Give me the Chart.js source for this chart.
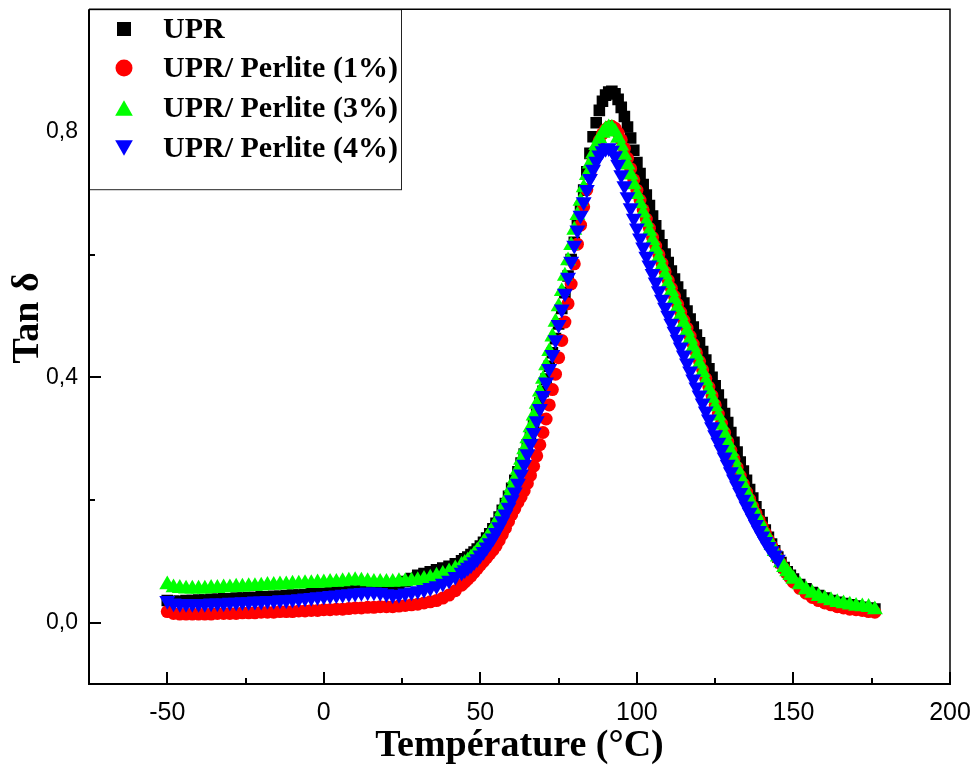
<!DOCTYPE html>
<html>
<head>
<meta charset="utf-8">
<script src="https://cdn.jsdelivr.net/npm/chart.js@4.4.1/dist/chart.umd.min.js"></script>
<style>
  html, body { margin: 0; padding: 0; background: #fff; }
</style>
</head>
<body>
<canvas id="chart" width="972" height="766"></canvas>
<script>
// Temperature grid (°C): coarse on the glassy plateau and the tail, 1 °C through the peak
const tempLow = [-50,-48,-46,-44,-42,-40,-38,-36,-34,-32,-30,-28,-26,-24,-22,-20,-18,-16,-14,-12,
  -10,-8,-6,-4,-2,0,2,4,6,8,10,12,14,16,18,20,22,24,26,28,30,32,34,36,38,40,42,44];
const tempMid = [45,46,47,48,49,50,51,52,53,54,55,56,57,58,59,60,61,62,63,64,65,66,67,68,69,70,
  71,72,73,74,75,76,77,78,79,80,81,82,83,84,85,86,87,88,89,90,91,92,93,94,95,96,97,98,99,100,
  101,102,103,104,105,106,107,108,109,110,111,112,113,114,115,116,117,118,119,120,121,122,123,124,125,
  126,127,128,129,130,131,132,133,134,135,136,137,138,139,140,141,142,143,144,145,146,147,148,149,150];
const tempHigh = [152,154,156,158,160,162,164,166,168,170,172,174,176];
const temps = [...tempLow, ...tempMid, ...tempHigh];

// tan delta
const upr = [
  0.036,0.035,0.035,0.036,0.036,0.037,0.037,0.038,0.038,0.039,
  0.039,0.040,0.040,0.041,0.041,0.042,0.042,0.043,0.043,0.044,
  0.045,0.045,0.046,0.047,0.047,0.048,0.049,0.050,0.050,0.051,
  0.052,0.053,0.054,0.055,0.056,0.058,0.060,0.063,0.067,0.072,
  0.077,0.080,0.083,0.086,0.089,0.092,0.096,0.101,
  0.104,0.107,0.111,0.115,0.120,0.125,0.131,0.138,0.145,0.153,
  0.162,0.172,0.183,0.194,0.206,0.219,0.232,0.246,0.260,0.275,
  0.290,0.306,0.323,0.340,0.358,0.377,0.397,0.418,0.440,0.463,
  0.487,0.512,0.538,0.565,0.592,0.620,0.648,0.676,0.705,0.735,
  0.765,0.792,0.815,0.835,0.850,0.860,0.865,0.866,0.862,0.853,
  0.840,0.825,0.808,0.790,0.770,0.750,0.732,0.714,0.697,0.680,
  0.663,0.647,0.631,0.616,0.601,0.587,0.573,0.560,0.547,0.534,
  0.521,0.508,0.495,0.482,0.469,0.456,0.442,0.428,0.414,0.400,
  0.386,0.371,0.356,0.341,0.326,0.310,0.294,0.278,0.262,0.247,
  0.232,0.217,0.203,0.189,0.176,0.163,0.151,0.139,0.128,0.117,
  0.107,0.098,0.090,0.083,0.077,0.071,
  0.062,0.055,0.049,0.044,0.040,0.036,0.033,0.031,0.029,0.027,0.025,0.024,0.022];

const perlite1 = [
  0.018,0.015,0.014,0.014,0.014,0.014,0.014,0.014,0.015,0.015,
  0.015,0.015,0.016,0.016,0.016,0.017,0.017,0.017,0.018,0.018,
  0.018,0.019,0.019,0.020,0.020,0.021,0.021,0.022,0.022,0.023,
  0.024,0.024,0.025,0.025,0.026,0.026,0.026,0.027,0.028,0.029,
  0.030,0.032,0.034,0.036,0.040,0.045,0.052,0.061,
  0.066,0.071,0.076,0.082,0.088,0.094,0.100,0.106,0.112,0.118,
  0.125,0.134,0.144,0.154,0.165,0.176,0.186,0.196,0.205,0.215,
  0.227,0.240,0.255,0.272,0.290,0.310,0.332,0.355,0.380,0.405,
  0.432,0.460,0.490,0.520,0.552,0.585,0.617,0.648,0.678,0.706,
  0.731,0.753,0.771,0.786,0.797,0.804,0.808,0.809,0.806,0.798,
  0.787,0.773,0.757,0.740,0.722,0.705,0.689,0.673,0.658,0.643,
  0.628,0.614,0.600,0.586,0.572,0.558,0.545,0.532,0.519,0.506,
  0.493,0.480,0.467,0.454,0.440,0.426,0.412,0.398,0.384,0.370,
  0.355,0.340,0.325,0.310,0.295,0.281,0.267,0.253,0.239,0.226,
  0.213,0.201,0.189,0.178,0.167,0.157,0.146,0.135,0.125,0.115,
  0.105,0.096,0.088,0.080,0.073,0.066,
  0.056,0.048,0.041,0.036,0.032,0.029,0.026,0.024,0.022,0.021,0.020,0.018,0.017];

const perlite3 = [
  0.062,0.057,0.056,0.055,0.055,0.055,0.055,0.056,0.056,0.057,
  0.057,0.058,0.058,0.059,0.059,0.060,0.061,0.061,0.062,0.062,
  0.063,0.063,0.064,0.064,0.065,0.065,0.066,0.066,0.067,0.068,
  0.069,0.068,0.067,0.066,0.066,0.066,0.066,0.067,0.067,0.068,
  0.069,0.071,0.073,0.076,0.079,0.083,0.088,0.094,
  0.097,0.101,0.106,0.111,0.117,0.123,0.130,0.137,0.145,0.153,
  0.162,0.172,0.183,0.195,0.207,0.220,0.234,0.249,0.265,0.282,
  0.300,0.318,0.337,0.356,0.376,0.397,0.419,0.442,0.466,0.490,
  0.515,0.540,0.565,0.590,0.615,0.640,0.664,0.687,0.709,0.729,
  0.748,0.764,0.778,0.789,0.798,0.804,0.807,0.806,0.800,0.790,
  0.777,0.762,0.746,0.730,0.714,0.698,0.683,0.668,0.653,0.638,
  0.623,0.609,0.595,0.581,0.567,0.553,0.540,0.527,0.514,0.501,
  0.488,0.475,0.462,0.449,0.436,0.422,0.408,0.394,0.380,0.366,
  0.352,0.337,0.322,0.307,0.293,0.279,0.265,0.251,0.238,0.225,
  0.212,0.200,0.188,0.177,0.166,0.156,0.146,0.136,0.126,0.116,
  0.107,0.098,0.090,0.083,0.077,0.071,
  0.062,0.054,0.048,0.043,0.039,0.036,0.033,0.031,0.029,0.027,0.026,0.025,0.021];

// the 4 % run stops at 145 °C
const perlite4 = [
  0.036,0.032,0.031,0.031,0.031,0.031,0.031,0.032,0.032,0.032,
  0.033,0.033,0.034,0.034,0.035,0.035,0.036,0.036,0.037,0.037,
  0.038,0.039,0.040,0.041,0.042,0.043,0.044,0.045,0.046,0.047,
  0.048,0.049,0.050,0.050,0.049,0.047,0.045,0.046,0.048,0.050,
  0.052,0.054,0.057,0.060,0.064,0.069,0.075,0.082,
  0.086,0.090,0.094,0.099,0.104,0.110,0.116,0.123,0.130,0.138,
  0.147,0.156,0.166,0.177,0.188,0.200,0.213,0.227,0.242,0.258,
  0.275,0.292,0.310,0.329,0.349,0.370,0.392,0.414,0.437,0.461,
  0.486,0.511,0.537,0.563,0.589,0.615,0.640,0.664,0.686,0.706,
  0.724,0.739,0.752,0.762,0.769,0.773,0.774,0.770,0.761,0.747,
  0.730,0.712,0.694,0.676,0.659,0.643,0.627,0.612,0.597,0.583,
  0.569,0.555,0.541,0.527,0.514,0.501,0.488,0.475,0.462,0.449,
  0.436,0.423,0.410,0.397,0.384,0.371,0.358,0.345,0.332,0.319,
  0.306,0.294,0.282,0.270,0.258,0.246,0.234,0.223,0.212,0.201,
  0.190,0.180,0.170,0.160,0.150,0.141,0.132,0.124,0.117,0.110,
  0.103];

const labels = ['UPR', 'UPR/ Perlite (1%)', 'UPR/ Perlite (3%)', 'UPR/ Perlite (4%)'];
const xMajor = [-50, 0, 50, 100, 150, 200];
const xMinor = [-25, 25, 75, 125, 175];
const yMajor = [0, 0.4, 0.8];
const yMinor = [0.2, 0.6];

const SERIF = '"Liberation Serif", "Times New Roman", serif';
const SANS = '"Liberation Sans", Arial, sans-serif';

const looks = [
  { color: '#000000', style: 'rect', radius: 8.2, rotation: 0 },
  { color: '#ff0000', style: 'circle', radius: 6.5, rotation: 0 },
  { color: '#00ff00', style: 'triangle', radius: 9.2, rotation: 0 },
  { color: '#0000ff', style: 'triangle', radius: 9.2, rotation: 180 },
];
const values = [upr, perlite1, perlite3, perlite4];

function marker(ctx, look, x, y, s) {
  ctx.fillStyle = look.color;
  ctx.beginPath();
  if (look.style === 'rect') {
    ctx.rect(x - s / 2, y - s / 2, s, s);
  } else if (look.style === 'circle') {
    ctx.arc(x, y, s / 2, 0, Math.PI * 2);
  } else {
    const d = look.rotation ? -1 : 1;
    ctx.moveTo(x, y - d * s * 0.45);
    ctx.lineTo(x + s * 0.52, y + d * s * 0.45);
    ctx.lineTo(x - s * 0.52, y + d * s * 0.45);
    ctx.closePath();
  }
  ctx.fill();
}

// inward ticks, frame, boxed legend and the rotated y title
const framePlugin = {
  id: 'frame',
  afterDraw(chart) {
    const { ctx, chartArea: a, scales: { x, y } } = chart;
    ctx.save();
    ctx.strokeStyle = '#000';
    ctx.lineWidth = 2;
    ctx.beginPath();
    xMajor.forEach(v => { const p = Math.round(x.getPixelForValue(v)); ctx.moveTo(p, a.bottom); ctx.lineTo(p, a.bottom - 12); });
    xMinor.forEach(v => { const p = Math.round(x.getPixelForValue(v)); ctx.moveTo(p, a.bottom); ctx.lineTo(p, a.bottom - 6); });
    yMajor.forEach(v => { const p = Math.round(y.getPixelForValue(v)); ctx.moveTo(a.left, p); ctx.lineTo(a.left + 12, p); });
    yMinor.forEach(v => { const p = Math.round(y.getPixelForValue(v)); ctx.moveTo(a.left, p); ctx.lineTo(a.left + 6, p); });
    ctx.stroke();

    // legend box
    ctx.fillStyle = '#fff';
    ctx.fillRect(a.left, a.top, 312, 180);
    ctx.lineWidth = 1;
    ctx.strokeStyle = '#222';
    ctx.strokeRect(a.left + 0.5, a.top + 0.5, 312, 180);
    const rows = [29, 68, 108, 148];
    ctx.font = 'bold 30px ' + SERIF;
    ctx.textBaseline = 'middle';
    ctx.textAlign = 'left';
    labels.forEach((t, i) => {
      const size = i === 0 ? 14 : 17;
      marker(ctx, looks[i], 124, rows[i], size);
      ctx.fillStyle = '#000';
      ctx.fillText(t, 163, rows[i] + 1);
    });

    // frame
    ctx.strokeStyle = '#000';
    ctx.lineWidth = 1.5;
    ctx.beginPath();
    ctx.moveTo(a.left, a.top); ctx.lineTo(a.right, a.top); ctx.lineTo(a.right, a.bottom);
    ctx.stroke();
    ctx.lineWidth = 2;
    ctx.beginPath();
    ctx.moveTo(a.left, a.top); ctx.lineTo(a.left, a.bottom); ctx.lineTo(a.right + 1, a.bottom);
    ctx.stroke();

    // y title
    ctx.translate(28, 318);
    ctx.rotate(-Math.PI / 2);
    ctx.font = 'bold 38px ' + SERIF;
    ctx.textAlign = 'center';
    ctx.fillStyle = '#000';
    ctx.fillText('Tan δ', 0, 0);
    ctx.restore();
  },
};

new Chart(document.getElementById('chart'), {
  type: 'scatter',
  data: {
    datasets: values.map((vals, i) => ({
      label: labels[i],
      data: vals.map((v, j) => ({ x: temps[j], y: v })),
      order: 4 - i,
      pointStyle: looks[i].style,
      pointRotation: looks[i].rotation,
      pointRadius: looks[i].radius,
      pointBackgroundColor: looks[i].color,
      pointBorderColor: looks[i].color,
      pointBorderWidth: 0,
      showLine: false,
    })),
  },
  options: {
    responsive: false,
    animation: false,
    events: [],
    layout: { padding: { top: 9, right: 22, left: 0, bottom: 0 } },
    plugins: { legend: { display: false }, tooltip: { enabled: false } },
    scales: {
      x: {
        type: 'linear',
        min: -75,
        max: 200,
        afterBuildTicks: s => { s.ticks = xMajor.map(v => ({ value: v })); },
        afterFit: s => { s.height = 82; s.paddingLeft = 0; s.paddingRight = 0; },
        grid: { display: false, drawTicks: false },
        border: { display: false },
        ticks: { color: '#000', font: { family: SANS, size: 25 }, padding: 14, maxRotation: 0, autoSkip: false },
        title: {
          display: true,
          text: 'Température (°C)',
          color: '#000',
          font: { family: SERIF, size: 38, weight: 'bold' },
          padding: { top: 0, bottom: -3 },
        },
      },
      y: {
        type: 'linear',
        min: -0.1,
        max: 1.0,
        afterBuildTicks: s => { s.ticks = yMajor.map(v => ({ value: v })); },
        afterFit: s => { s.width = 89; s.paddingTop = 0; s.paddingBottom = 0; },
        grid: { display: false, drawTicks: false },
        border: { display: false },
        ticks: {
          color: '#000',
          font: { family: SANS, size: 23 },
          padding: 11,
          callback: v => v.toFixed(1).replace('.', ','),
        },
      },
    },
  },
  plugins: [framePlugin],
});
</script>
</body>
</html>
